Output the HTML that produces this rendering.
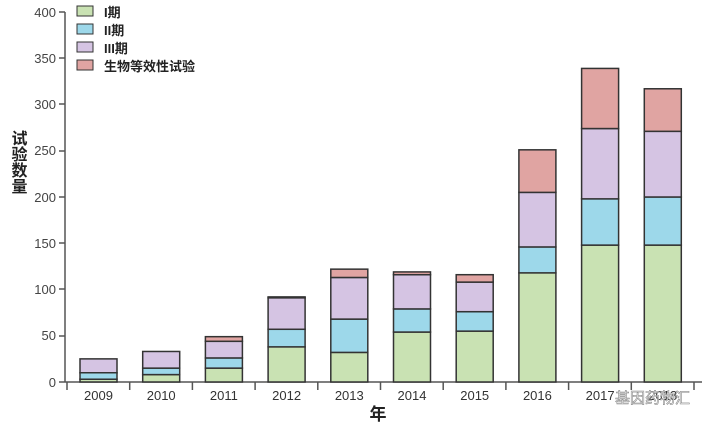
<!DOCTYPE html>
<html><head><meta charset="utf-8"><style>
body{margin:0;background:#fff;}
svg{display:block;font-family:"Liberation Sans","Noto Sans CJK SC",sans-serif;}
</style></head><body>
<svg width="705" height="430" viewBox="0 0 705 430">
<g font-size="13" fill="#444" text-anchor="end">
<text x="56" y="387">0</text><text x="56" y="294">100</text><text x="56" y="340">50</text>
<text x="56" y="248">150</text><text x="56" y="202">200</text><text x="56" y="155">250</text>
<text x="56" y="109">300</text><text x="56" y="63">350</text><text x="56" y="17">400</text>
</g>
<g stroke="#555" stroke-width="1.5">
<line x1="65" y1="12" x2="65" y2="382"/>
<line x1="65" y1="382" x2="702" y2="382"/>
<line x1="59" y1="382" x2="65" y2="382"/><line x1="59" y1="336" x2="65" y2="336"/>
<line x1="59" y1="289" x2="65" y2="289"/><line x1="59" y1="243" x2="65" y2="243"/>
<line x1="59" y1="197" x2="65" y2="197"/><line x1="59" y1="151" x2="65" y2="151"/>
<line x1="59" y1="104" x2="65" y2="104"/><line x1="59" y1="58" x2="65" y2="58"/>
<line x1="59" y1="12" x2="65" y2="12"/>
</g>
<g id="xt" stroke="#555" stroke-width="1.5"></g>
<g id="bars" stroke="#333" stroke-width="1.5"></g>
<g id="xl" font-size="13" fill="#333" text-anchor="middle"></g>
<text x="17" y="130" font-size="16" font-weight="bold" fill="#222" writing-mode="tb" style="writing-mode:vertical-rl" text-anchor="start">试验数量</text>
<text x="378" y="420" font-size="17" font-weight="bold" fill="#222" text-anchor="middle">年</text>
<g stroke="#333" stroke-width="1">
<rect x="77" y="6" width="16" height="10" fill="#c9e2b3"/>
<rect x="77" y="24" width="16" height="10" fill="#9dd8ea"/>
<rect x="77" y="42" width="16" height="10" fill="#d5c4e3"/>
<rect x="77" y="60" width="16" height="10" fill="#e0a4a2"/>
</g>
<g font-size="13" fill="#222" font-weight="bold">
<text x="104" y="17">I期</text><text x="104" y="35">II期</text>
<text x="104" y="53">III期</text><text x="104" y="71">生物等效性试验</text>
</g>
<text x="690" y="403" font-size="15" fill="#fff" stroke="#888" stroke-width="0.6" text-anchor="end">基因药物汇</text>
<script>
var d=[[2009,3,10,25,25],[2010,8,15,33,33],[2011,15,26,44,49],[2012,38,57,91,92],[2013,32,68,113,122],[2014,54,79,116,119],[2015,55,76,108,116],[2016,118,146,205,251],[2017,148,198,274,339],[2018,148,200,271,317]];
var c=["#c9e2b3","#9dd8ea","#d5c4e3","#e0a4a2"];
var ns="http://www.w3.org/2000/svg";
function y(v){return 382-v*0.925;}
var b=document.getElementById("bars"),xl=document.getElementById("xl"),xt=document.getElementById("xt");
for(var i=0;i<=10;i++){var l=document.createElementNS(ns,"line");var x=67+i*62.7;l.setAttribute("x1",x);l.setAttribute("x2",x);l.setAttribute("y1",382);l.setAttribute("y2",390);xt.appendChild(l);}
d.forEach(function(r,i){var cx=98.5+i*62.7;var prev=0;
for(var k=0;k<4;k++){var v=r[k+1];if(v<=prev)continue;var e=document.createElementNS(ns,"rect");
e.setAttribute("x",cx-18.5);e.setAttribute("width",37);e.setAttribute("y",y(v));e.setAttribute("height",y(prev)-y(v));e.setAttribute("fill",c[k]);b.appendChild(e);prev=v;}
var t=document.createElementNS(ns,"text");t.setAttribute("x",cx);t.setAttribute("y",400);t.textContent=r[0];xl.appendChild(t);});
</script>
</svg>
</body></html>
